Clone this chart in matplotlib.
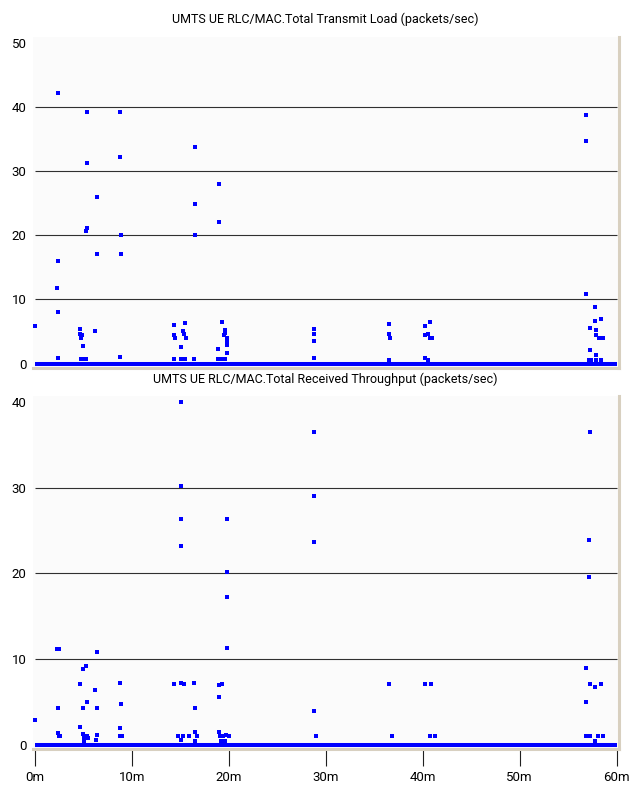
import numpy as np
import matplotlib
matplotlib.use("Agg")
import matplotlib.pyplot as plt

# transmit load samples (time in minutes, packets/sec)
tx_t = [0.0,
        2.4, 2.4, 2.3, 2.4, 2.4,
        4.6, 4.6, 4.8, 4.7, 4.9, 4.7, 5.0, 5.3,
        5.4, 5.4, 5.4, 5.3,
        6.4, 6.4, 6.2,
        8.8, 8.8, 8.9, 8.9, 8.8,
        14.3, 14.3, 14.4, 14.3,
        15.5, 15.3, 15.4, 15.6, 15.1, 15.1, 15.5,
        16.5, 16.5, 16.5, 16.4,
        19.0, 19.0, 18.9, 19.3, 19.6, 19.6, 19.5, 19.8, 19.8, 19.8, 19.8, 18.9, 19.3, 19.6,
        28.8, 28.8, 28.8, 28.8,
        36.5, 36.5, 36.6, 36.5,
        40.2, 40.7, 40.2, 40.5, 40.7, 40.9, 40.2, 40.5,
        56.8, 56.8, 56.8, 57.8, 57.8, 58.4, 57.2, 57.9, 57.9, 58.2, 58.4, 58.6,
        57.2, 57.9, 57.1, 57.4, 57.9, 58.4]
tx_v = [5.9,
        42.2, 15.9, 11.8, 8.0, 0.9,
        5.4, 4.6, 4.4, 4.0, 2.7, 0.65, 0.65, 0.65,
        39.2, 31.2, 21.1, 20.6,
        26.0, 17.1, 5.1,
        39.2, 32.1, 20.0, 17.1, 1.0,
        6.0, 4.4, 4.0, 0.7,
        6.3, 5.0, 4.6, 4.0, 2.6, 0.7, 0.7,
        33.8, 24.8, 20.0, 0.7,
        28.0, 22.1, 2.3, 6.5, 5.2, 4.7, 4.4, 4.0, 3.4, 2.9, 1.6, 0.7, 0.7, 0.7,
        5.4, 4.6, 3.5, 0.8,
        6.2, 4.6, 4.0, 0.5,
        5.9, 6.4, 4.4, 4.6, 4.0, 4.0, 0.8, 0.5,
        38.7, 34.6, 10.9, 8.8, 6.6, 6.9, 5.5, 5.2, 4.4, 4.0, 4.0, 4.0,
        2.1, 1.4, 0.6, 0.6, 0.6, 0.6]

# received throughput samples
rx_t = [0.0,
        2.3, 2.5, 2.4, 2.4, 2.6, 2.5,
        4.6, 4.6, 4.9, 5.3, 4.9, 5.4, 4.9, 5.1, 5.4, 5.5, 5.1,
        6.4, 6.2, 6.4, 6.4, 6.3,
        8.8, 8.9, 8.8, 8.8, 9.0,
        14.3, 14.7,
        15.1, 15.1, 15.1, 15.1, 15.1, 15.4, 15.1, 15.3, 15.9,
        16.4, 16.5, 16.5, 16.7, 16.5,
        19.0, 19.0, 19.3, 19.0, 19.1, 19.4, 19.2,
        19.8, 19.8, 19.8, 19.8, 19.7, 20.0, 19.6,
        28.8, 28.8, 28.8, 28.8, 29.0,
        36.5, 36.8,
        40.2, 40.8, 40.7, 41.3,
        57.2, 57.1, 57.1, 56.8, 57.2, 57.8, 58.4, 56.8, 56.8, 57.0, 57.3, 58.1, 58.6, 57.8]
rx_v = [2.9,
        11.2, 11.2, 4.3, 1.4, 1.0, 1.0,
        7.1, 2.1, 8.8, 9.2, 4.3, 5.0, 1.2, 0.8, 1.0, 0.8, 0.4,
        10.8, 6.4, 4.3, 1.1, 0.5,
        7.2, 4.7, 1.9, 1.0, 1.0,
        7.1, 1.0,
        40.0, 30.2, 26.3, 23.2, 7.2, 7.1, 0.5, 1.0, 1.0,
        7.2, 4.3, 1.5, 1.0, 0.4,
        5.5, 7.0, 7.1, 1.5, 1.0, 1.0, 0.4,
        26.3, 20.1, 17.2, 11.3, 1.1, 1.0, 0.4,
        36.5, 29.0, 23.6, 3.9, 1.0,
        7.1, 1.0,
        7.1, 7.1, 1.0, 1.0,
        36.5, 23.9, 19.6, 8.9, 7.1, 6.7, 7.1, 5.0, 1.0, 1.0, 1.0, 1.0, 1.0, 0.4]

# the zero samples fill the whole run
zero_t = [0.0, 60.0]
zero_v = [0, 0]

x_ticks = [0, 10, 20, 30, 40, 50, 60]
x_labels = ["0m", "10m", "20m", "30m", "40m", "50m", "60m"]
tx_yticks = [0, 10, 20, 30, 40, 50]
rx_yticks = [0, 10, 20, 30, 40]

titles = ["UMTS UE RLC/MAC.Total Transmit Load (packets/sec)",
          "UMTS UE RLC/MAC.Total Received Throughput (packets/sec)"]

plt.rcParams["font.family"] = ["Roboto", "DejaVu Sans"]
fs = 9

W, H = 629, 789
fig = plt.figure(figsize=(W / 100, H / 100), dpi=100)
fig.patch.set_facecolor("white")

blue = "#0000ff"
beige = "#d8d0c0"


def setup(ax, yticks, grid_vals):
    ax.set_facecolor("#fbfbfb")
    for s in ["left", "top"]:
        ax.spines[s].set_visible(False)
    for s in ["bottom", "right"]:
        ax.spines[s].set_color(beige)
        ax.spines[s].set_linewidth(2.2)
    ax.hlines(grid_vals, 0, 60, color="#303030", linewidth=0.8, zorder=1)
    ax.plot(zero_t, zero_v, color=blue, linewidth=2.9, solid_capstyle="butt", zorder=3)
    ax.set_xlim(-0.21, 60.19)
    ax.set_yticks(yticks)
    ax.set_yticklabels([str(v) for v in yticks], fontsize=fs + 0.5)
    ax.tick_params(axis="y", length=0, pad=4.5)


ax1 = fig.add_axes([33 / W, 1 - 368 / H, 585.5 / W, 331 / H])
setup(ax1, tx_yticks, [10, 20, 30, 40])
ax1.plot(tx_t, tx_v, "s", color=blue, markersize=2.5, markeredgewidth=0, zorder=4)
ax1.set_ylim(-0.70, 50.86)
ax1.set_xticks([])

ax2 = fig.add_axes([33 / W, 1 - 748.5 / H, 585.5 / W, 352.5 / H])
setup(ax2, rx_yticks, [10, 20, 30])
ax2.plot(rx_t, rx_v, "s", color=blue, markersize=2.5, markeredgewidth=0, zorder=4)
ax2.set_ylim(-0.467, 40.71)
ax2.set_xticks(x_ticks)
ax2.set_xticklabels(x_labels, fontsize=fs + 0.5)
ax2.tick_params(axis="x", direction="out", length=12, width=0.8, color="#202020", pad=4.5)

fig.text(325.75 / W, 1 - 19 / H, titles[0], ha="center", va="center", fontsize=fs)
fig.text(325.75 / W, 1 - 379 / H, titles[1], ha="center", va="center", fontsize=fs)

plt.savefig("out.png", dpi=100)
